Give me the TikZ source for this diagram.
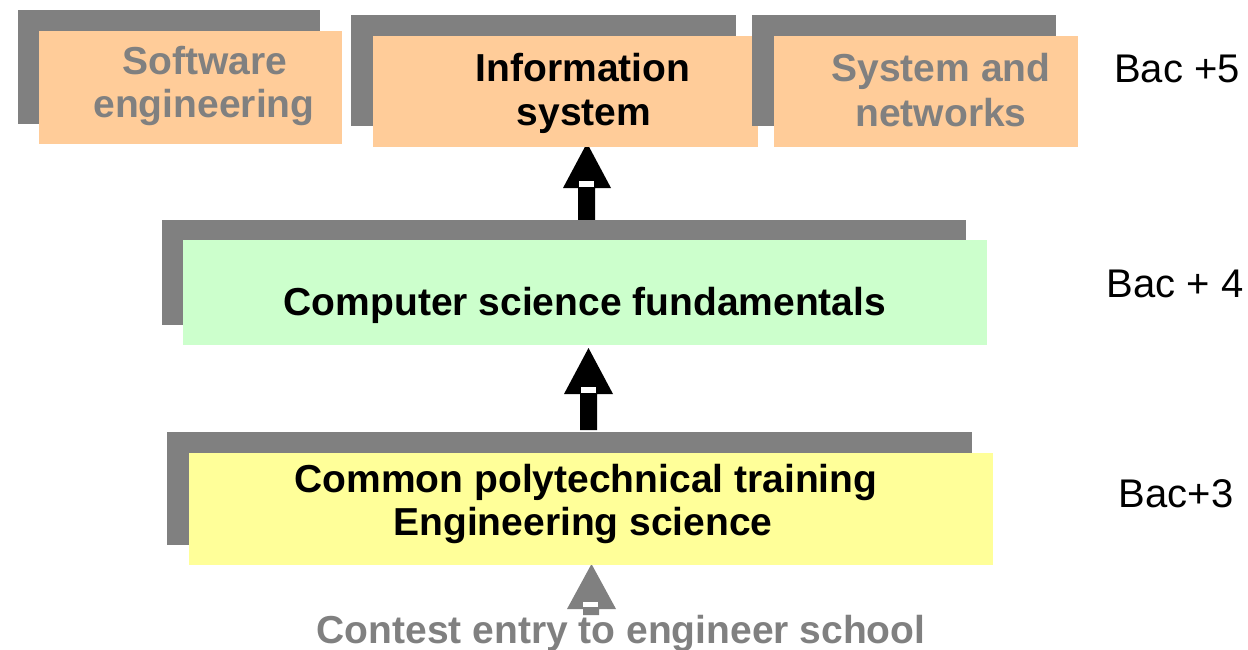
\documentclass[tikz,border=0pt]{standalone}
\usepackage{fontspec}
\setmainfont{Liberation Sans}
\definecolor{shad}{RGB}{128,128,128}
\definecolor{peach}{RGB}{255,204,153}
\definecolor{mint}{RGB}{204,255,204}
\definecolor{lemon}{RGB}{255,255,153}
\definecolor{txtgray}{RGB}{128,128,128}
\begin{document}
\begin{tikzpicture}[x=1pt,y=-1pt,
  shadowbox/.style={fill=shad, draw=none, inner sep=0pt},
  frontbox/.style={fill=#1, draw=none, inner sep=0pt},
  lbl/.style={anchor=base, inner sep=0pt, font=\bfseries\fontsize{39}{45}\selectfont},
  bac/.style={anchor=base, inner sep=0pt, font=\fontsize{40}{45}\selectfont}]
\useasboundingbox (0,0) rectangle (1248,650);
% arrows
\fill[black] (587,143) -- (611,188) -- (595,188) -- (595,222) -- (578,222) -- (578,188) -- (563,188) -- cycle;
\fill[white] (579,181) rectangle (594,187);
\fill[black] (588.5,348) -- (613,394) -- (597,394) -- (597,430) -- (580,430) -- (580,394) -- (564,394) -- cycle;
\fill[white] (581,387) rectangle (596,393);
\fill[shad] (591.5,564) -- (616,609) -- (599,609) -- (599,615) -- (583,615) -- (583,609) -- (567,609) -- cycle;
\fill[white] (583,602) rectangle (598,607);
% top row
\node[shadowbox, minimum width=302, minimum height=114] (swS) at (169,67) {};
\node[frontbox=peach, minimum width=303, minimum height=113] (sw) at (190.5,87.5) {};
\node[shadowbox, minimum width=385, minimum height=111] (isS) at (543.5,70.5) {};
\node[frontbox=peach, minimum width=385, minimum height=111] (is) at (565.5,91.5) {};
\node[shadowbox, minimum width=304, minimum height=111] (snS) at (904,70.5) {};
\node[frontbox=peach, minimum width=304, minimum height=111] (sn) at (926,91.5) {};
% middle
\node[shadowbox, minimum width=804, minimum height=105] (csS) at (564,272.5) {};
\node[frontbox=mint, minimum width=804, minimum height=105] (cs) at (585,292.5) {};
% bottom
\node[shadowbox, minimum width=805, minimum height=113] (cpS) at (569.5,488.5) {};
\node[frontbox=lemon, minimum width=804, minimum height=112] (cp) at (591,509) {};
% texts
\node[lbl, text=txtgray] (swT1) at (205,75) {Software};
\node[lbl, text=txtgray] (swT2) at (204,118) {engineering};
\node[lbl] (isT1) at (583,82) {Information};
\node[lbl] (isT2) at (584,126) {system};
\node[lbl, text=txtgray] (snT1) at (941,82) {System and};
\node[lbl, text=txtgray] (snT2) at (941,127) {networks};
\node[lbl] (csT) at (585,315) {Computer science fundamentals};
\node[lbl] (cpT1) at (586,492) {Common polytechnical training};
\node[lbl] (cpT2) at (583,535) {Engineering science};
\node[lbl, text=txtgray] (ce) at (621,643) {Contest entry to engineer school};
\node[bac] (b5) at (1177,83) {Bac +5};
\node[bac] (b4) at (1175,297) {Bac + 4};
\node[bac] (b3) at (1176,507) {Bac+3};
\end{tikzpicture}
\end{document}
